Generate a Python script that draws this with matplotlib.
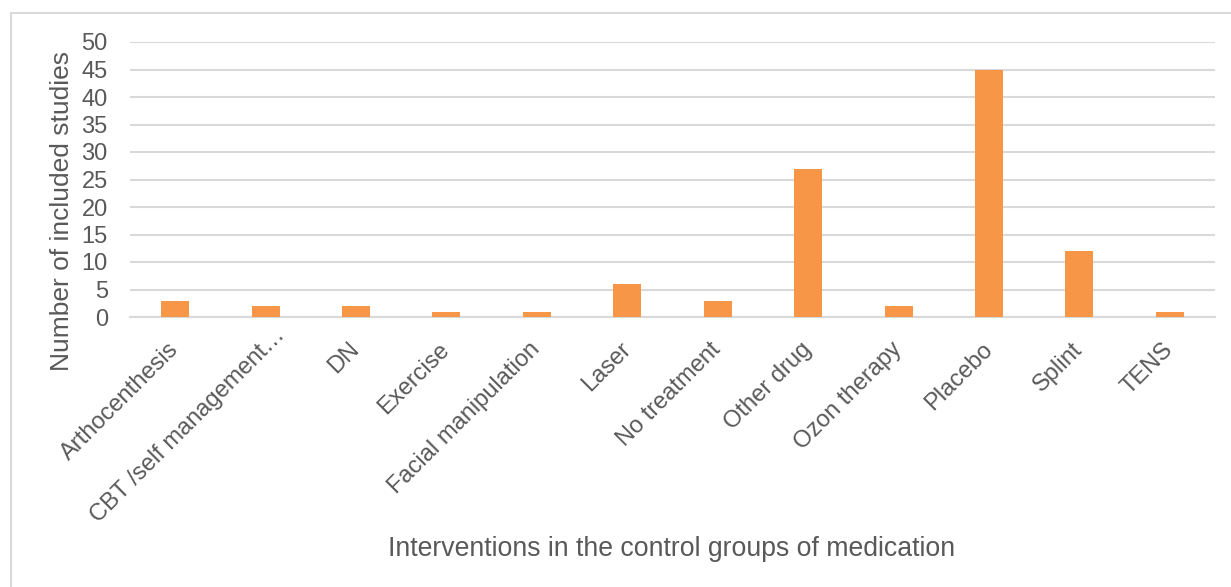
import matplotlib
matplotlib.use("Agg")
import matplotlib.pyplot as plt
from matplotlib.patches import Rectangle
from matplotlib.transforms import ScaledTranslation

categories = ["Arthocenthesis", "CBT /self management\u2026", "DN", "Exercise",
              "Facial manipulation", "Laser", "No treatment", "Other drug",
              "Ozon therapy", "Placebo", "Splint", "TENS"]
counts = [3, 2, 2, 1, 1, 6, 3, 27, 2, 45, 12, 1]
y_ticks = [0, 5, 10, 15, 20, 25, 30, 35, 40, 45, 50]

plt.rcParams["font.family"] = ["Liberation Sans", "DejaVu Sans"]
text_color = "#595959"
grid_color = "#D9D9D9"
bar_color = "#F79646"

W, H = 1231, 587
fig = plt.figure(figsize=(W / 100, H / 100), dpi=100)

# chart frame
fig.patches.append(Rectangle((11 / W, -0.05), 1.1, 1 - 13 / H + 0.05,
                             transform=fig.transFigure, fill=False,
                             edgecolor=grid_color, linewidth=1.5))

ax = fig.add_axes([130 / W, 1 - 317 / H, (1215 - 130) / W, (317 - 42) / H])
x = range(len(categories))
ax.bar(x, counts, width=0.31, color=bar_color, zorder=3)
ax.set_xlim(-0.5, len(categories) - 0.5)
ax.set_ylim(0, 50)
ax.set_yticks(y_ticks)
ax.set_yticklabels([str(v) for v in y_ticks], fontsize=17, color=text_color)
ax.yaxis.grid(True, color=grid_color, linewidth=1.5, zorder=0)
ax.set_axisbelow(True)
for s in ["top", "right", "left"]:
    ax.spines[s].set_visible(False)
ax.spines["bottom"].set_color(grid_color)
ax.spines["bottom"].set_linewidth(1.5)
ax.tick_params(axis="both", length=0)
ax.tick_params(axis="y", pad=16)
ax.set_xticks(list(x))
labels = ax.set_xticklabels(categories, rotation=45, ha="right", va="center",
                            rotation_mode="anchor", fontsize=17, color=text_color)
ax.tick_params(axis="x", pad=21)

# the truncated label sits a little further along its own direction
shift = ScaledTranslation(16 / 100, 14 / 100, fig.dpi_scale_trans)
labels[1].set_transform(labels[1].get_transform() + shift)

fig.text(62 / W, 1 - 211 / H, "Number of included studies", rotation=90,
         ha="center", va="center", fontsize=19, color=text_color)
fig.text(672 / W, 1 - 549 / H, "Interventions in the control groups of medication",
         ha="center", va="center", fontsize=19.2, color=text_color)

fig.savefig("out.png", dpi=100, facecolor="white")
